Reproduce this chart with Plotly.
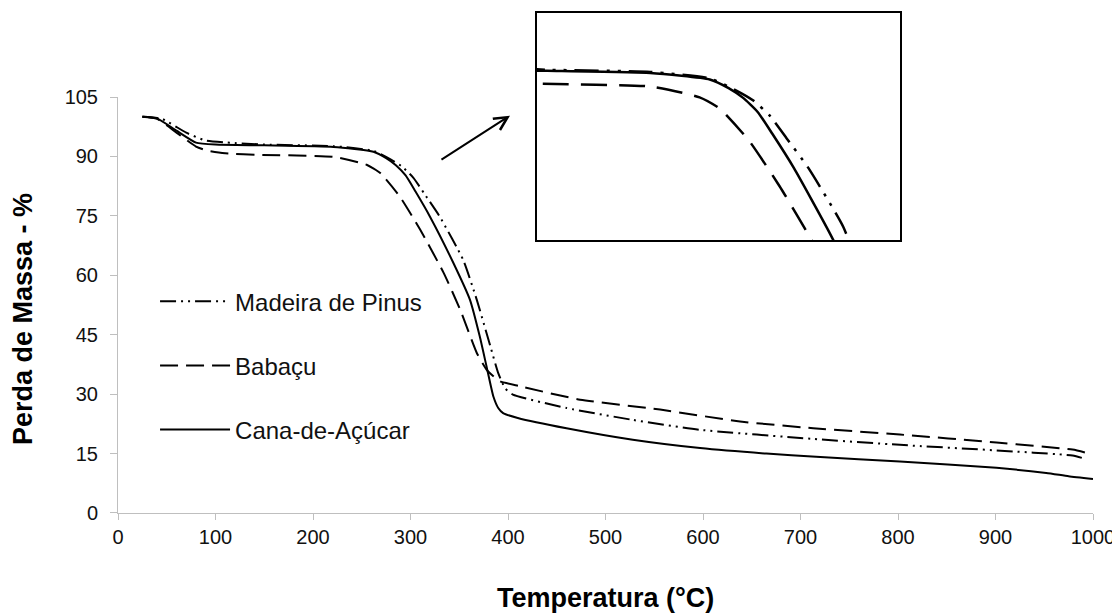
import plotly.graph_objects as go

# ---- data ----
cana_t = [25, 40, 60, 80, 100, 150, 221, 262, 275, 285, 295, 305, 320, 344, 361, 371, 378,
          385, 390, 395, 410, 460, 528, 597, 665, 716, 802, 901, 952, 975, 1000]
cana_y = [100, 99.6, 96.5, 93.5, 93.0, 92.8, 92.4, 91.2, 89.6, 87.8, 85.2, 81.2, 74.8, 63.1,
          53.8, 44.6, 37.0, 29.4, 26.5, 25.2, 24.0, 21.4, 18.5, 16.4, 15.0, 14.2, 13.0, 11.4,
          10.1, 9.3, 8.6]

babacu_t = [25, 40, 60, 80, 91, 110, 146, 221, 255, 269, 289, 310, 334, 351, 368, 378, 385,
            392, 412, 474, 556, 638, 713, 802, 901, 979, 993]
babacu_y = [100, 99.5, 96.0, 92.5, 91.5, 90.8, 90.4, 89.9, 87.9, 85.8, 79.9, 71.5, 60.6, 51.3,
            40.4, 36.2, 34.5, 33.2, 32.0, 28.6, 26.1, 23.1, 21.4, 19.8, 17.8, 16.0, 15.2]

pinus_t = [25, 45, 70, 90, 112, 150, 221, 262, 280, 292, 303, 315, 330, 354, 368, 382, 390,
           397, 405, 460, 528, 597, 713, 802, 901, 979, 993]
pinus_y = [100, 99.5, 96.0, 94.0, 93.5, 93.0, 92.6, 91.4, 89.2, 87.3, 84.6, 80.3, 74.8, 63.9,
           53.8, 42.0, 35.3, 31.5, 29.9, 26.5, 23.5, 21.0, 18.7, 17.2, 15.8, 14.5, 13.6]

x_ticks = [0, 100, 200, 300, 400, 500, 600, 700, 800, 900, 1000]
y_ticks = [0, 15, 30, 45, 60, 75, 90, 105]

names = ["Madeira de Pinus", "Babaçu", "Cana-de-Açúcar"]
x_title = "Temperatura (°C)"
y_title = "Perda de Massa - %"

FONT = "Arial, Liberation Sans, sans-serif"
AXC = "#bfbfbf"

fig = go.Figure()

series = [
    (names[0], pinus_t, pinus_y, "16px,5px,2px,5px,2px,5px", "24px,8px,3px,8px,3px,8px"),
    (names[1], babacu_t, babacu_y, "18px,8px", "26px,12px"),
    (names[2], cana_t, cana_y, "solid", "solid"),
]

for nm, t, y, dash, dash2 in series:
    fig.add_trace(go.Scatter(
        x=t, y=y, mode="lines", name=nm,
        line=dict(color="black", width=2, dash=dash, shape="spline", smoothing=0.5),
        xaxis="x", yaxis="y", legendgroup=nm,
    ))

for nm, t, y, dash, dash2 in series:
    fig.add_trace(go.Scatter(
        x=t, y=y, mode="lines", name=nm, showlegend=False,
        line=dict(color="black", width=2.5, dash=dash2, shape="spline", smoothing=0.5),
        xaxis="x2", yaxis="y2",
    ))

# the page body has an 8px margin: figure is sized/offset to compensate
fig.update_layout(
    width=1112, height=606,
    margin=dict(l=110, r=27, t=2, b=101),
    paper_bgcolor="white", plot_bgcolor="white",
    font=dict(family=FONT, size=20, color="#111111"),
    xaxis=dict(
        domain=[0, 1], range=[0, 1000], tickvals=x_ticks, automargin=False,
        showline=True, linecolor=AXC, linewidth=1,
        ticks="outside", ticklen=6, tickcolor=AXC,
        showgrid=False, zeroline=False,
        tickfont=dict(size=20, family=FONT),
    ),
    yaxis=dict(
        domain=[0, 0.827], range=[0, 105], tickvals=y_ticks, automargin=False,
        showline=True, linecolor=AXC, linewidth=1,
        ticks="outside", ticklen=7, tickcolor=AXC, ticklabelstandoff=8,
        showgrid=False, zeroline=False,
        tickfont=dict(size=20, family=FONT),
    ),
    xaxis2=dict(
        domain=[0.4297, 0.802], range=[143, 393], anchor="y2", automargin=False,
        showline=True, mirror=True, linecolor="black", linewidth=2,
        showticklabels=False, ticks="", showgrid=False, zeroline=False,
    ),
    yaxis2=dict(
        domain=[0.5427, 0.994], range=[61.5, 103.5], anchor="x2", automargin=False,
        showline=True, mirror=True, linecolor="black", linewidth=2,
        showticklabels=False, ticks="", showgrid=False, zeroline=False,
    ),
    legend=dict(
        x=0.038, y=0.465, xanchor="left", yanchor="top",
        font=dict(size=24, family=FONT, color="#111111"),
        bgcolor="rgba(0,0,0,0)", tracegroupgap=30, itemwidth=70,
    ),
    showlegend=True,
)

# axis titles
fig.add_annotation(
    text="<b>" + x_title + "</b>", xref="paper", yref="paper", x=0.4995, y=-0.169,
    xanchor="center", yanchor="middle", showarrow=False,
    font=dict(size=27, family=FONT, color="black"),
)
fig.add_annotation(
    text="<b>" + y_title + "</b>", xref="paper", yref="paper", x=-0.0974, y=0.3857,
    xanchor="center", yanchor="middle", showarrow=False, textangle=-90,
    font=dict(size=27, family=FONT, color="black"),
)

fig.add_annotation(
    x=402, y=100.3, xref="x", yref="y", ax=-70, ay=45,
    showarrow=True, arrowhead=5, arrowsize=1.3, arrowwidth=2, arrowcolor="black",
    text="", standoff=0,
)

fig.write_html("out.html")
